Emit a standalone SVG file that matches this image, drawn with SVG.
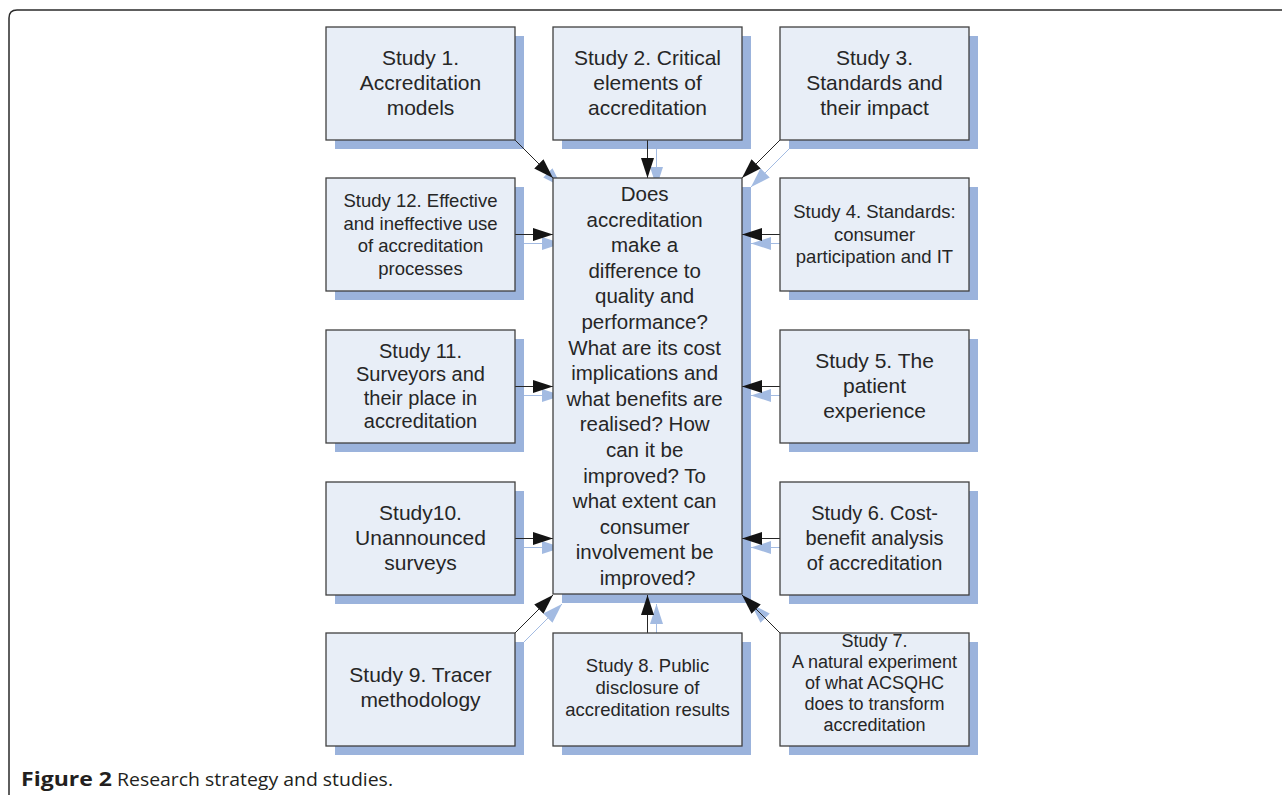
<svg xmlns="http://www.w3.org/2000/svg" width="1282" height="795" viewBox="0 0 1282 795">
<style>
.frame{fill:none;stroke:#2a2a2a;stroke-width:1.5}
.box{fill:#E8EEF7;stroke:#404040;stroke-width:1.3}
.sh{fill:#9BB3DC}
.t{font-family:"Liberation Sans",Arial,sans-serif;fill:#262626;text-anchor:middle}
.big{font-size:21px}
.mid{font-size:20px}
.sm{font-size:18.5px}
.conn{stroke:#262626;stroke-width:1;fill:none;marker-end:url(#ah)}
.conns{stroke:#A3BBE2;stroke-width:1;fill:none;marker-end:url(#ahs)}
.cap{font-family:"Open Sans","Liberation Sans",Arial,sans-serif;font-size:19px;fill:#231f20}
</style>
<defs>
<marker id="ah" markerUnits="userSpaceOnUse" markerWidth="22" markerHeight="14" refX="20" refY="6.5" orient="auto">
<path d="M0,0 L20,6.5 L0,13 z" fill="#141414"/>
</marker>
<marker id="ahs" markerUnits="userSpaceOnUse" markerWidth="22" markerHeight="14" refX="20" refY="6.5" orient="auto">
<path d="M0,0 L20,6.5 L0,13 z" fill="#A3BBE2"/>
</marker>
</defs>
<rect x="0" y="0" width="1282" height="795" fill="#ffffff"/>
<path class="frame" d="M9,800 V18 Q9,10 17,10 H1290"/>

<g id="shadows">
<rect class="sh" x="335" y="36" width="189" height="113"/>
<rect class="sh" x="562" y="36" width="189" height="113"/>
<rect class="sh" x="789" y="36" width="189" height="113"/>
<rect class="sh" x="335" y="187" width="189" height="113"/>
<rect class="sh" x="789" y="187" width="189" height="113"/>
<rect class="sh" x="335" y="339" width="189" height="113"/>
<rect class="sh" x="789" y="339" width="189" height="113"/>
<rect class="sh" x="335" y="491" width="189" height="113"/>
<rect class="sh" x="789" y="491" width="189" height="113"/>
<rect class="sh" x="335" y="642" width="189" height="113"/>
<rect class="sh" x="562" y="642" width="189" height="113"/>
<rect class="sh" x="789" y="642" width="189" height="113"/>
<rect class="sh" x="562" y="187" width="189" height="416"/>
</g>

<g id="connectors">
<g id="connector-shadows">
<path class="conns" d="M524,149 L562,187"/>
<path class="conns" d="M656.5,149 L656.5,187"/>
<path class="conns" d="M789,149 L751,187"/>
<path class="conns" d="M524,243.5 L562,243.5"/>
<path class="conns" d="M789,243.5 L751,243.5"/>
<path class="conns" d="M524,395.5 L562,395.5"/>
<path class="conns" d="M789,395.5 L751,395.5"/>
<path class="conns" d="M524,547.5 L562,547.5"/>
<path class="conns" d="M789,547.5 L751,547.5"/>
<path class="conns" d="M524,642 L562,604"/>
<path class="conns" d="M656.5,642 L656.5,604"/>
<path class="conns" d="M789,642 L751,604"/>
</g>
<path class="conn" d="M515,140 L553,178"/>
<path class="conn" d="M647.5,140 L647.5,178"/>
<path class="conn" d="M780,140 L742,178"/>
<path class="conn" d="M515,234.5 L553,234.5"/>
<path class="conn" d="M780,234.5 L742,234.5"/>
<path class="conn" d="M515,386.5 L553,386.5"/>
<path class="conn" d="M780,386.5 L742,386.5"/>
<path class="conn" d="M515,538.5 L553,538.5"/>
<path class="conn" d="M780,538.5 L742,538.5"/>
<path class="conn" d="M515,633 L553,595"/>
<path class="conn" d="M647.5,633 L647.5,595"/>
<path class="conn" d="M780,633 L742,595"/>
</g>

<g id="center">
<rect class="box" x="553" y="178" width="189" height="416"/>
<text class="t" style="font-size:20.5px">
<tspan x="647.5" y="201">Does</tspan>
<tspan x="647.5" dy="25.6">accreditation</tspan>
<tspan x="647.5" dy="25.6">make a</tspan>
<tspan x="647.5" dy="25.6">difference to</tspan>
<tspan x="647.5" dy="25.6">quality and</tspan>
<tspan x="647.5" dy="25.6">performance?</tspan>
<tspan x="647.5" dy="25.6">What are its cost</tspan>
<tspan x="647.5" dy="25.6">implications and</tspan>
<tspan x="647.5" dy="25.6">what benefits are</tspan>
<tspan x="647.5" dy="25.6">realised? How</tspan>
<tspan x="647.5" dy="25.6">can it be</tspan>
<tspan x="647.5" dy="25.6">improved? To</tspan>
<tspan x="647.5" dy="25.6">what extent can</tspan>
<tspan x="647.5" dy="25.6">consumer</tspan>
<tspan x="647.5" dy="25.6">involvement be</tspan>
<tspan x="647.5" dy="25.6">improved?</tspan>
</text>
</g>

<g id="study1">
<rect class="box" x="326" y="27" width="189" height="113"/>
<text class="t big"><tspan x="420.5" y="65">Study 1.</tspan><tspan x="420.5" y="90">Accreditation</tspan><tspan x="420.5" y="115">models</tspan></text>
</g>
<g id="study2">
<rect class="box" x="553" y="27" width="189" height="113"/>
<text class="t big"><tspan x="647.5" y="65">Study 2. Critical</tspan><tspan x="647.5" y="90">elements of</tspan><tspan x="647.5" y="115">accreditation</tspan></text>
</g>
<g id="study3">
<rect class="box" x="780" y="27" width="189" height="113"/>
<text class="t big"><tspan x="874.5" y="65">Study 3.</tspan><tspan x="874.5" y="90">Standards and</tspan><tspan x="874.5" y="115">their impact</tspan></text>
</g>
<g id="study12">
<rect class="box" x="326" y="178" width="189" height="113"/>
<text class="t sm"><tspan x="420.5" y="207">Study 12. Effective</tspan><tspan x="420.5" y="229.5">and ineffective use</tspan><tspan x="420.5" y="252">of accreditation</tspan><tspan x="420.5" y="274.5">processes</tspan></text>
</g>
<g id="study4">
<rect class="box" x="780" y="178" width="189" height="113"/>
<text class="t sm"><tspan x="874.5" y="218">Study 4. Standards:</tspan><tspan x="874.5" y="240.5">consumer</tspan><tspan x="874.5" y="263">participation and IT</tspan></text>
</g>
<g id="study11">
<rect class="box" x="326" y="330" width="189" height="113"/>
<text class="t mid"><tspan x="420.5" y="357.5">Study 11.</tspan><tspan x="420.5" y="381">Surveyors and</tspan><tspan x="420.5" y="404.5">their place in</tspan><tspan x="420.5" y="428">accreditation</tspan></text>
</g>
<g id="study5">
<rect class="box" x="780" y="330" width="189" height="113"/>
<text class="t big"><tspan x="874.5" y="368">Study 5. The</tspan><tspan x="874.5" y="393">patient</tspan><tspan x="874.5" y="418">experience</tspan></text>
</g>
<g id="study10">
<rect class="box" x="326" y="482" width="189" height="113"/>
<text class="t big"><tspan x="420.5" y="520">Study10.</tspan><tspan x="420.5" y="545">Unannounced</tspan><tspan x="420.5" y="570">surveys</tspan></text>
</g>
<g id="study6">
<rect class="box" x="780" y="482" width="189" height="113"/>
<text class="t mid"><tspan x="874.5" y="520">Study 6. Cost-</tspan><tspan x="874.5" y="545">benefit analysis</tspan><tspan x="874.5" y="570">of accreditation</tspan></text>
</g>
<g id="study9">
<rect class="box" x="326" y="633" width="189" height="113"/>
<text class="t big"><tspan x="420.5" y="682">Study 9. Tracer</tspan><tspan x="420.5" y="707">methodology</tspan></text>
</g>
<g id="study8">
<rect class="box" x="553" y="633" width="189" height="113"/>
<text class="t sm"><tspan x="647.5" y="672">Study 8. Public</tspan><tspan x="647.5" y="694">disclosure of</tspan><tspan x="647.5" y="716">accreditation results</tspan></text>
</g>
<g id="study7">
<rect class="box" x="780" y="633" width="189" height="113"/>
<text class="t" style="font-size:18px"><tspan x="874.5" y="647">Study 7.</tspan><tspan x="874.5" y="668">A natural experiment</tspan><tspan x="874.5" y="689">of what ACSQHC</tspan><tspan x="874.5" y="710">does to transform</tspan><tspan x="874.5" y="731">accreditation</tspan></text>
</g>

<g id="caption">
<text class="cap" x="21" y="786" font-weight="bold" textLength="91" lengthAdjust="spacingAndGlyphs">Figure 2</text>
<text class="cap" x="117" y="786" textLength="276" lengthAdjust="spacingAndGlyphs">Research strategy and studies.</text>
</g>
</svg>
